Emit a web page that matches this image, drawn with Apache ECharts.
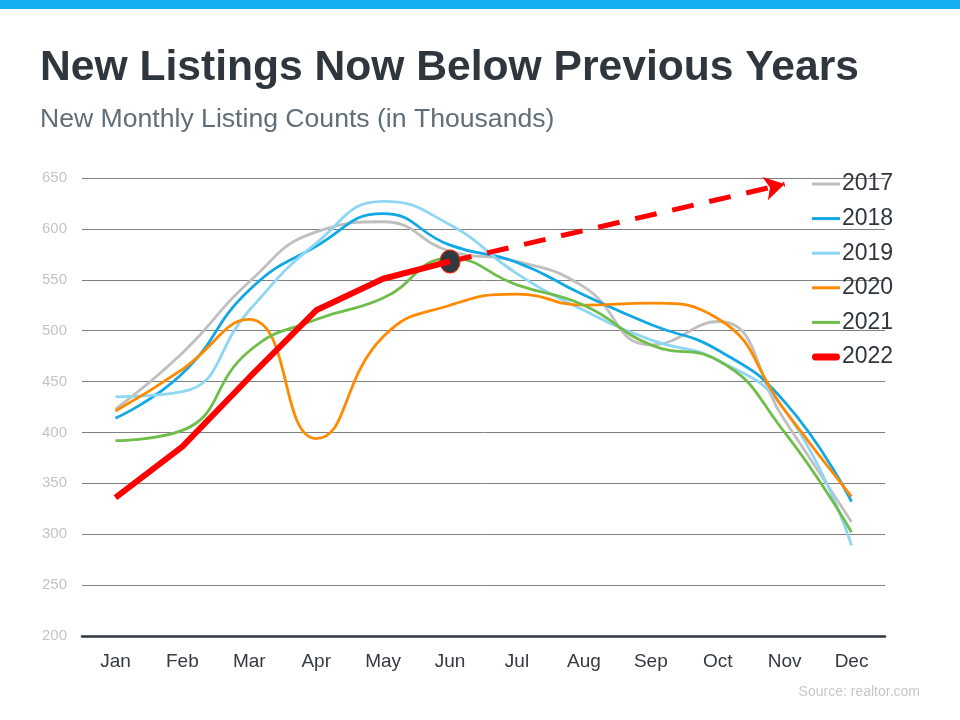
<!DOCTYPE html>
<html><head><meta charset="utf-8">
<script src="https://cdn.jsdelivr.net/npm/echarts@6/dist/echarts.min.js"></script>
<style>html,body{margin:0;padding:0;background:#fff}#c{width:960px;height:720px}</style>
</head><body><div id="c"></div>
<script>
const months = ['Jan','Feb','Mar','Apr','May','Jun','Jul','Aug','Sep','Oct','Nov','Dec'];
const yTicks = {min:200, max:650, interval:50};
const years = ['2017','2018','2019','2020','2021','2022'];
const y2017 = [423,478,548,597,607,578,568,543,486,509,412,312];
const y2018 = [414,458,540,583,615,584,567,535,506,481,430,332];
const y2019 = [435,440,520,586,627,604,556,520,491,471,422,289];
const y2020 = [421,462,511,394,494,525,536,525,527,512,422,337];
const y2021 = [392,402,480,511,532,571,545,525,486,471,400,302];
const y2022 = [336,386,454,520,551,568];
const trendStart = ['Jun',568];
const trendEnd = ['Nov',644];

const colors = {'2017':'#bfbfbf','2018':'#12a8e6','2019':'#8fd6f5','2020':'#ff8a00','2021':'#6fbd4a','2022':'#ff0000'};
const FONT = '"Liberation Sans", Arial, sans-serif';
const chart = echarts.init(document.getElementById('c'));
const mk = (name, data) => ({
  name, type:'line', data, smooth:0.5, symbol:'none', showSymbol:false,
  lineStyle:{color:colors[name], width:2.8}, itemStyle:{color:colors[name]}
});
chart.setOption({
  animation:false,
  graphic:[
    {type:'rect', left:0, top:0, shape:{width:960,height:9}, style:{fill:'#14aff0'}},
    {type:'text', left:40, top:47, style:{text:'New Listings Now Below Previous Years', font:'bold 42.6px ' + FONT, fill:'#2f363d'}},
    {type:'text', left:40, top:106, style:{text:'New Monthly Listing Counts (in Thousands)', font:'26.6px ' + FONT, fill:'#5f6e78'}},
    {type:'text', right:40, top:685, style:{text:'Source: realtor.com', font:'14px ' + FONT, fill:'#c8c8c8'}}
  ],
  grid:{left:82, right:75, top:178, bottom:84},
  legend:{
    orient:'vertical', left:807, top:167, itemWidth:28, itemHeight:14, itemGap:10.6,
    textStyle:{fontSize:23, color:'#2f363d', fontFamily:FONT, lineHeight:24, padding:[0,0,0,-3]},
    data: years.map(y => ({
      name:y,
      icon: y === '2022' ? 'path://M3,0h22a3,3 0 0 1 0,7h-22a3,3 0 0 1 0,-7z' : 'path://M0,0h28v3h-28z',
      itemStyle:{color:colors[y]}
    }))
  },
  xAxis:{
    type:'category', data:months, boundaryGap:true,
    axisTick:{show:false},
    axisLine:{lineStyle:{color:'#2f363d', width:2.5}},
    axisLabel:{fontSize:19, color:'#333a40', margin:16, fontFamily:FONT}
  },
  yAxis:{
    type:'value', min:yTicks.min, max:yTicks.max, interval:yTicks.interval,
    axisLine:{show:false}, axisTick:{show:false},
    splitLine:{lineStyle:{color:'#808080', width:1}},
    axisLabel:{fontSize:15, color:'#c4c4c4', margin:15, fontFamily:FONT}
  },
  series:[
    mk('2017', y2017),
    mk('2018', y2018),
    mk('2019', y2019),
    mk('2020', y2020),
    mk('2021', y2021),
    {
      name:'2022', type:'line', data:y2022, smooth:false, symbol:'none', showSymbol:false,
      lineStyle:{color:colors['2022'], width:6}, itemStyle:{color:colors['2022']}, z:5,
      markLine:{
        silent:true, symbol:['none','arrow'], symbolSize:[18,20],
        label:{show:false},
        lineStyle:{color:colors['2022'], width:5, type:[22,16]},
        data:[[{coord:trendStart},{coord:trendEnd}]]
      },
      markPoint:{
        silent:true, symbol:'circle', symbolSize:[20,23],
        itemStyle:{color:'#2e3840', borderColor:'#ff2000', borderWidth:1},
        label:{show:false},
        data:[{coord:trendStart}]
      }
    }
  ]
});
</script></body></html>
